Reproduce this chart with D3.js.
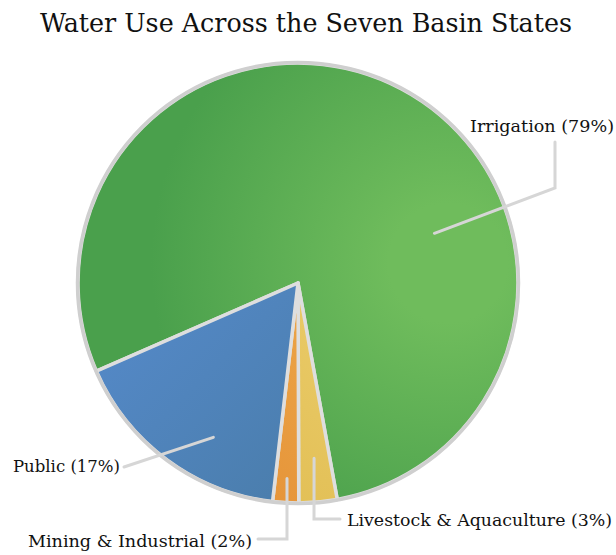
<!DOCTYPE html>
<html><head><meta charset="utf-8">
<script src="https://cdn.jsdelivr.net/npm/d3@7/dist/d3.min.js"></script>
<style>html,body{margin:0;padding:0;background:#fff;}svg{display:block;}</style>
</head><body>
<svg id="chart" width="616" height="555"></svg>
<script>
const title = "Water Use Across the Seven Basin States";
const categories = ["Irrigation", "Livestock & Aquaculture", "Mining & Industrial", "Public"];
const values = [78.7, 2.8, 1.9, 16.6];
const colorsLight = ["#6fbc5c", "#ecce6e", "#eeab4c", "#568bcd"];
const colorsDark  = ["#4aa04c", "#e2bf55", "#e6953a", "#4a7dab"];

const W = 616, H = 555;
const cx = 298, cy = 283, R = 220;
const startDeg = 246.4;
const FONT = "'DejaVu Serif Condensed', 'DejaVu Serif', serif";

// label layout: anchor position within slice (fraction of angle span, fraction of radius),
// path of connector, text anchor
const labelLayout = [
  {af: 0.648, rf: 0.66, pts: [[555,188],[555,142]], tx: 614, ty: 126, anchor: "end", w: 144},
  {af: 0.5,  rf: 0.80, pts: [[314,519],[340,519]], tx: 347, ty: 520, anchor: "start", w: 265},
  {af: 0.5,  rf: 0.89, pts: [[287,539],[258,539]], tx: 252, ty: 541, anchor: "end", w: 224},
  {af: 0.37, rf: 0.80, pts: [[124,467]], tx: 120, ty: 466, anchor: "end", w: 107}
];

const svg = d3.select("#chart");
const defs = svg.append("defs");
// gradient coordinates are relative to the pie centre (slices drawn in a translated group)
values.forEach((v, i) => {
  if (i === 3) {
    const gr = defs.append("linearGradient").attr("id", "grad" + i)
      .attr("gradientUnits", "userSpaceOnUse")
      .attr("x1", -R).attr("y1", 0).attr("x2", 0).attr("y2", R);
    gr.append("stop").attr("offset", "0").attr("stop-color", colorsLight[i]);
    gr.append("stop").attr("offset", "1").attr("stop-color", colorsDark[i]);
  } else {
    const gr = defs.append("radialGradient").attr("id", "grad" + i)
      .attr("gradientUnits", "userSpaceOnUse")
      .attr("cx", 150).attr("cy", -20).attr("r", R * 1.35);
    gr.append("stop").attr("offset", "0").attr("stop-color", colorsLight[i]);
    gr.append("stop").attr("offset", "0.2").attr("stop-color", colorsLight[i]);
    gr.append("stop").attr("offset", "1").attr("stop-color", colorsDark[i]);
  }
});

const pie = d3.pie().sort(null).value(d => d)
  .startAngle(startDeg * Math.PI / 180)
  .endAngle(startDeg * Math.PI / 180 + 2 * Math.PI);
const arcs = pie(values);
const arc = d3.arc().innerRadius(0).outerRadius(R);

const pg = svg.append("g").attr("transform", `translate(${cx},${cy})`);
pg.selectAll("path.slice").data(arcs).enter().append("path")
  .attr("class", "slice")
  .attr("d", arc)
  .attr("fill", (d, i) => `url(#grad${i})`)
  .attr("stroke", "#dedede")
  .attr("stroke-width", 3.5)
  .attr("stroke-linejoin", "round");

pg.append("circle").attr("r", R + 0.5).attr("fill", "none")
  .attr("stroke", "#cfcfcf").attr("stroke-width", 3.5);

// connectors
const lineGen = d3.line();
arcs.forEach((d, i) => {
  const L = labelLayout[i];
  const a = d.startAngle + (d.endAngle - d.startAngle) * L.af;
  const r = R * L.rf;
  const p0 = [cx + r * Math.sin(a), cy - r * Math.cos(a)];
  svg.append("path")
    .attr("d", lineGen([p0, ...L.pts]))
    .attr("fill", "none")
    .attr("stroke", "#d6d6d6")
    .attr("stroke-width", 3)
    .attr("stroke-linecap", "round")
    .attr("stroke-linejoin", "miter");
});

// labels
arcs.forEach((d, i) => {
  const L = labelLayout[i];
  const t = svg.append("text")
    .attr("x", L.tx).attr("y", L.ty)
    .attr("dy", "0.35em")
    .attr("text-anchor", L.anchor)
    .attr("font-family", FONT)
    .attr("font-size", 17)
    .attr("fill", "#111")
    .text(`${categories[i]} (${Math.round(d.value)}%)`);
  const len = t.node().getComputedTextLength();
  if (Math.abs(len - L.w) > 2) t.attr("textLength", L.w).attr("lengthAdjust", "spacingAndGlyphs");
});

const tt = svg.append("text")
  .attr("x", 306).attr("y", 23)
  .attr("dy", "0.35em")
  .attr("text-anchor", "middle")
  .attr("font-family", FONT)
  .attr("font-size", 26)
  .attr("fill", "#111")
  .text(title);
const tl = tt.node().getComputedTextLength();
if (Math.abs(tl - 532) > 2) tt.attr("textLength", 532).attr("lengthAdjust", "spacingAndGlyphs");
</script>
</body></html>
